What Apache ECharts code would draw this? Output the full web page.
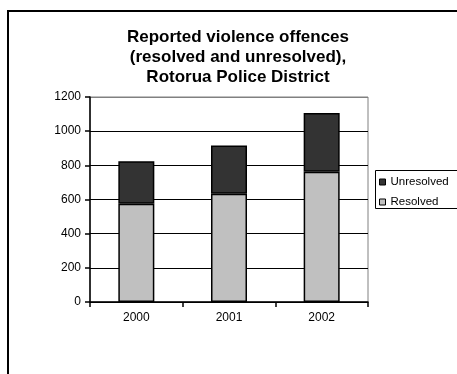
<!DOCTYPE html>
<html>
<head>
<meta charset="utf-8">
<script src="https://cdn.jsdelivr.net/npm/echarts@6/dist/echarts.min.js"></script>
<style>
  html, body { margin: 0; padding: 0; background: #fff; }
  #chart { width: 457px; height: 374px; }
</style>
</head>
<body>
<div id="chart"></div>
<script>
// 数据
const years = ['2000', '2001', '2002'];
const resolved = [575, 634, 763];
const unresolved = [249, 282, 343];
const yTicks = [0, 200, 400, 600, 800, 1000, 1200];

const font = '"Liberation Sans", Arial, sans-serif';

const myChart = echarts.init(document.getElementById('chart'));

// 网格线：顶部那条是灰色的绘图区边框
const splitColors = yTicks.map((t, i) => (i === yTicks.length - 1 ? '#808080' : '#000'));

myChart.setOption({
  animation: false,
  backgroundColor: '#fff',
  title: {
    text: 'Reported violence offences\n(resolved and unresolved),\nRotorua Police District',
    left: 238,
    top: 27,
    padding: 0,
    textAlign: 'center',
    textStyle: { fontFamily: font, fontSize: 17, fontWeight: 'bold', color: '#000', lineHeight: 20 }
  },
  grid: {
    left: 90, top: 97, width: 278, height: 205,
    show: true, borderColor: '#808080', borderWidth: 1, backgroundColor: 'transparent'
  },
  legend: {
    orient: 'vertical',
    left: 379,
    top: 175,
    padding: 0,
    itemWidth: 6,
    itemHeight: 6,
    itemGap: 6,
    icon: 'rect',
    data: ['Unresolved', 'Resolved'],
    itemStyle: { borderColor: '#000', borderWidth: 1 },
    textStyle: { fontFamily: font, fontSize: 11.5, color: '#000', lineHeight: 14 }
  },
  xAxis: {
    type: 'category',
    data: years,
    axisLine: { lineStyle: { color: '#000', width: 1.5 } },
    axisTick: { show: true, length: 5, lineStyle: { color: '#000', width: 1.5 } },
    axisLabel: { fontFamily: font, fontSize: 12, color: '#000', margin: 10 }
  },
  yAxis: {
    type: 'value',
    min: 0, max: 1200, interval: 200,
    axisLine: { show: true, lineStyle: { color: '#000', width: 1.5 } },
    axisTick: { show: true, length: 5, lineStyle: { color: '#000', width: 1.5 } },
    axisLabel: { fontFamily: font, fontSize: 12, color: '#000', margin: 9, formatter: (v) => String(v) },
    splitLine: { show: true, lineStyle: { color: splitColors, width: 1 } }
  },
  series: [
    {
      name: 'Resolved',
      type: 'bar',
      stack: 'total',
      barWidth: 36,
      data: resolved,
      itemStyle: { color: '#c0c0c0', borderColor: '#000', borderWidth: 1.5 }
    },
    {
      name: 'Unresolved',
      type: 'bar',
      stack: 'total',
      barWidth: 36,
      data: unresolved,
      itemStyle: { color: '#333333', borderColor: '#000', borderWidth: 1.5 }
    }
  ],
  graphic: [
    // 外框
    { type: 'rect', shape: { x: 8, y: 11, width: 480, height: 400 },
      style: { fill: 'none', stroke: '#000', lineWidth: 2 }, silent: true },
    // 图例框
    { type: 'rect', shape: { x: 375.5, y: 170.5, width: 100, height: 38 },
      style: { fill: 'none', stroke: '#000', lineWidth: 1 }, silent: true }
  ]
});
</script>
</body>
</html>
